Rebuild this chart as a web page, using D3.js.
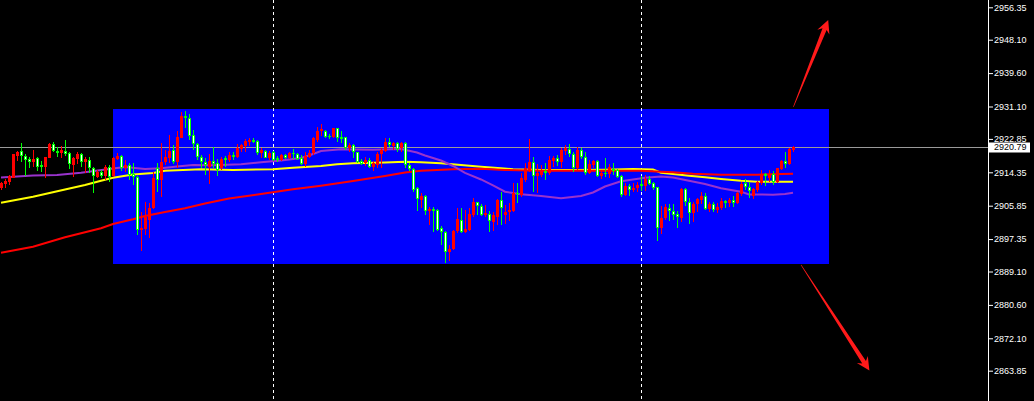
<!DOCTYPE html>
<html><head><meta charset="utf-8">
<script src="https://cdn.jsdelivr.net/npm/d3@7"></script>
<style>html,body{margin:0;padding:0;background:#000;overflow:hidden}</style>
</head><body><svg id="c" width="1034" height="401"></svg>
<script>
// ---- candle data (index 0..198) ----
const openP = [
2910.44,2911.38,2911.97,2912.98,2918.58,2919.78,2918.43,2917.82,2917.06,2917.92,
2916.22,2915.78,2918.07,2921.49,2919.85,2919.34,2919.85,2919.19,2916.22,2917.74,
2918.94,2917.06,2917.41,2915.38,2913.16,2914.35,2913.34,2915.63,2913.41,2917.74,
2918.51,2915.53,2916.14,2913.85,2913.16,2899.67,2899.93,2902.22,2905.19,2915.38,
2912.40,2916.90,2918.07,2920.03,2917.06,2923.16,2928.68,2928.10,2923.85,2921.56,
2918.32,2916.90,2915.78,2917.24,2916.65,2915.38,2917.92,2917.41,2918.76,2918.32,
2920.21,2921.13,2921.99,2922.58,2922.33,2919.34,2919.78,2917.92,2919.52,2917.92,
2917.49,2918.76,2917.92,2919.34,2918.94,2917.92,2916.39,2918.32,2919.19,2922.58,
2924.79,2924.87,2923.67,2923.26,2925.55,2923.34,2923.26,2920.62,2921.31,2919.44,
2917.24,2916.80,2917.49,2915.78,2916.22,2918.94,2919.85,2921.99,2921.13,2921.81,
2920.47,2921.81,2916.22,2915.20,2910.28,2907.31,2908.33,2904.51,2904.94,2904.69,
2900.10,2899.09,2894.15,2894.84,2899.42,2902.22,2899.24,2899.67,2903.49,2906.72,
2905.86,2903.49,2903.74,2901.79,2903.05,2907.31,2903.49,2904.18,2904.51,2909.16,
2908.58,2912.40,2914.69,2916.90,2913.41,2913.67,2914.76,2914.10,2917.24,2918.07,
2917.06,2919.78,2920.29,2918.94,2915.38,2919.95,2918.32,2914.10,2916.22,2917.24,
2913.49,2914.25,2913.85,2915.20,2914.86,2913.41,2908.58,2910.87,2909.85,2910.28,
2911.38,2910.95,2912.65,2911.55,2910.54,2900.10,2902.65,2905.19,2904.58,2903.83,
2902.81,2910.10,2906.88,2903.92,2906.21,2907.31,2908.40,2905.02,2906.21,2904.76,
2905.35,2907.06,2906.62,2907.31,2906.62,2908.76,2911.55,2910.69,2908.40,2909.85,
2911.55,2913.85,2912.98,2913.85,2911.97,2915.20,2917.24,2916.47,2920.03];
const highP = [
2911.97,2912.65,2913.67,2919.09,2919.78,2921.74,2918.94,2918.17,2920.03,2918.32,
2917.24,2918.32,2921.74,2922.15,2920.87,2921.12,2922.50,2919.60,2918.32,2919.60,
2919.27,2918.32,2918.32,2915.78,2914.94,2914.86,2916.14,2916.22,2918.32,2919.34,
2918.76,2917.49,2916.65,2916.65,2913.41,2904.33,2906.72,2906.47,2914.51,2916.65,
2921.74,2920.03,2923.85,2921.31,2924.87,2929.78,2929.96,2929.19,2925.12,2921.89,
2918.76,2917.92,2918.94,2920.80,2917.66,2918.25,2918.58,2919.60,2919.60,2921.49,
2921.56,2922.83,2923.01,2923.16,2922.66,2920.47,2919.95,2919.78,2919.78,2918.43,
2919.09,2919.09,2919.60,2920.29,2919.19,2918.76,2919.60,2920.03,2923.34,2925.97,
2926.52,2925.12,2924.03,2925.71,2925.71,2924.87,2923.42,2921.74,2921.64,2919.60,
2917.74,2918.32,2917.92,2917.24,2919.60,2920.47,2923.01,2923.16,2922.15,2922.15,
2922.15,2921.99,2916.65,2915.38,2910.69,2909.01,2908.58,2905.60,2905.60,2904.94,
2900.78,2899.42,2895.86,2899.67,2905.19,2905.19,2904.76,2905.19,2907.74,2906.88,
2906.21,2906.04,2904.51,2904.33,2907.49,2909.38,2906.04,2906.47,2911.55,2911.55,
2914.10,2916.65,2922.83,2918.17,2916.39,2916.22,2916.65,2918.58,2918.51,2918.76,
2920.62,2921.31,2921.56,2919.60,2920.87,2920.62,2919.60,2917.49,2917.49,2917.49,
2914.94,2917.92,2916.39,2916.65,2915.20,2913.67,2911.55,2911.30,2911.55,2911.97,
2913.49,2913.67,2913.49,2911.81,2910.69,2905.78,2906.21,2906.29,2906.29,2904.51,
2910.28,2910.28,2907.74,2906.88,2907.74,2909.27,2909.01,2906.72,2906.72,2906.47,
2907.74,2907.31,2907.74,2908.40,2909.42,2911.81,2912.65,2911.81,2910.44,2912.15,
2914.94,2914.10,2914.94,2914.69,2915.53,2917.49,2919.44,2920.47,2921.12];
const lowP = [
2909.85,2910.44,2911.13,2912.83,2917.24,2916.90,2913.49,2915.38,2915.63,2914.69,
2914.51,2912.98,2917.92,2919.60,2918.17,2917.92,2918.58,2915.12,2913.23,2916.39,
2915.63,2914.10,2914.10,2909.01,2912.98,2912.83,2912.47,2911.97,2913.16,2917.56,
2914.61,2914.51,2912.40,2911.13,2898.40,2894.40,2898.40,2897.71,2905.02,2909.42,
2908.15,2916.22,2916.65,2916.39,2915.38,2923.01,2925.71,2922.58,2920.03,2917.49,
2915.38,2913.67,2911.38,2915.38,2913.49,2914.94,2915.78,2916.90,2917.49,2917.92,
2919.60,2919.60,2921.13,2921.74,2918.76,2918.07,2917.92,2917.49,2917.31,2916.90,
2917.24,2917.74,2917.66,2917.66,2917.49,2916.22,2915.78,2917.92,2918.76,2922.15,
2923.60,2923.01,2922.83,2923.01,2922.15,2921.74,2920.03,2919.60,2917.92,2916.65,
2916.22,2916.04,2915.38,2914.76,2915.38,2915.53,2919.60,2920.87,2920.03,2919.60,
2919.44,2915.38,2914.69,2909.27,2904.51,2905.19,2903.49,2900.95,2899.24,2899.42,
2895.86,2891.20,2891.79,2894.58,2898.83,2898.83,2898.83,2899.42,2903.05,2903.49,
2903.31,2903.05,2899.24,2899.42,2900.95,2900.95,2901.13,2901.97,2904.18,2906.47,
2908.15,2911.97,2914.51,2909.27,2909.16,2913.23,2912.40,2913.67,2915.78,2916.04,
2915.53,2918.76,2918.32,2914.51,2914.94,2917.74,2913.67,2913.85,2915.38,2913.23,
2912.65,2913.23,2912.98,2913.67,2912.98,2908.15,2908.40,2908.40,2909.27,2909.27,
2909.60,2909.60,2911.13,2909.85,2896.87,2898.58,2902.22,2901.97,2902.22,2900.26,
2901.63,2905.78,2901.13,2901.79,2904.18,2906.21,2904.76,2904.33,2904.33,2903.92,
2904.76,2905.19,2905.60,2905.60,2906.21,2908.40,2909.85,2907.89,2907.56,2909.27,
2911.13,2910.95,2911.97,2911.13,2911.55,2914.94,2915.38,2916.22,2919.44];
const closeP = [
2911.71,2912.15,2913.34,2918.94,2919.52,2918.58,2917.56,2917.06,2917.74,2915.71,
2915.71,2918.17,2921.56,2919.85,2919.34,2919.95,2919.09,2916.55,2917.92,2919.01,
2917.06,2917.66,2915.38,2913.34,2914.35,2913.34,2915.63,2913.23,2917.92,2918.58,
2915.53,2916.29,2913.67,2913.16,2899.67,2900.26,2902.91,2905.19,2912.83,2912.40,
2916.90,2918.32,2919.85,2917.06,2923.34,2928.68,2928.10,2923.67,2921.49,2918.32,
2916.90,2916.22,2917.24,2916.55,2914.94,2917.74,2917.41,2918.76,2918.25,2920.47,
2921.31,2922.33,2922.66,2921.99,2919.19,2919.95,2918.07,2919.34,2917.49,2917.49,
2918.76,2918.07,2919.27,2918.94,2917.74,2916.39,2918.58,2919.19,2923.01,2924.87,
2925.25,2923.42,2923.26,2925.55,2923.16,2922.83,2920.62,2921.31,2919.44,2917.06,
2916.47,2917.49,2915.78,2916.65,2918.94,2919.95,2922.15,2921.31,2921.81,2920.29,
2921.81,2916.22,2915.20,2909.93,2907.56,2908.40,2904.51,2905.02,2904.51,2899.67,
2899.09,2894.15,2894.84,2899.49,2902.47,2899.24,2899.93,2903.83,2906.72,2905.86,
2903.49,2903.92,2902.04,2903.49,2907.31,2905.35,2904.33,2904.76,2909.16,2908.76,
2912.98,2915.38,2916.90,2913.49,2914.10,2914.94,2914.25,2917.49,2918.07,2917.06,
2920.03,2920.47,2918.94,2915.38,2920.03,2918.32,2914.10,2916.39,2917.24,2913.49,
2914.25,2913.85,2915.78,2914.69,2913.23,2908.58,2910.87,2909.85,2910.44,2911.13,
2910.95,2912.65,2911.38,2910.44,2900.10,2902.65,2905.60,2904.51,2903.49,2902.98,
2910.10,2906.88,2903.92,2906.21,2907.49,2908.40,2905.02,2906.21,2904.76,2905.53,
2907.06,2906.62,2907.31,2906.62,2909.01,2911.30,2910.69,2909.60,2910.03,2911.81,
2913.67,2913.41,2913.67,2911.97,2915.38,2917.24,2916.55,2920.29,2920.79];

// ---- moving averages (sampled at candle indices) ----
const maPurpleIdx = [0,8,14,20,28,31,36,40,44,48,53,60,65,70,75,77,80,85,93,100,104,106,110,113,116,120,123,126,130,135,140,145,148,151,155,158,161,165,168,172,176,180,185,187,193,196,198];
const maPurpleVal = [2913.03,2913.54,2913.67,2914.25,2915.33,2915.71,2915.20,2915.38,2915.84,2916.22,2916.14,2916.39,2916.90,2917.36,2918.00,2918.63,2919.78,2920.21,2920.08,2920.29,2919.40,2918.63,2917.36,2915.96,2914.18,2912.53,2911.00,2909.42,2908.76,2908.33,2907.74,2908.33,2909.22,2910.74,2912.07,2912.53,2912.98,2913.29,2913.03,2912.22,2911.38,2910.28,2909.42,2908.71,2908.66,2908.84,2909.16];
const maYellowIdx = [0,8,16,21,25,28,33,38,41,50,58,68,73,80,84,88,96,101,105,110,115,120,125,128,135,143,151,158,163,165,168,172,176,180,185,189,198];
const maYellowVal = [2906.62,2908.12,2909.98,2911.13,2912.22,2912.98,2913.80,2914.18,2914.76,2915.12,2914.94,2915.12,2915.53,2915.96,2916.42,2916.65,2916.85,2917.06,2916.90,2916.65,2916.22,2915.78,2915.38,2915.12,2914.94,2914.94,2915.02,2915.20,2915.07,2914.25,2913.92,2913.49,2913.08,2912.65,2912.22,2911.97,2911.97];
const maRedIdx = [0,8,16,25,28,33,36,41,46,51,57,65,73,80,88,96,101,105,113,120,126,135,151,160,165,168,173,180,189,195,198];
const maRedVal = [2893.89,2895.42,2897.81,2900.10,2901.19,2902.39,2903.23,2904.25,2905.19,2906.42,2907.69,2908.84,2910.03,2910.95,2912.15,2913.41,2914.31,2914.76,2915.12,2915.25,2914.94,2914.76,2914.76,2914.76,2914.51,2914.35,2914.00,2913.74,2913.74,2913.92,2914.00];

// ---- axis ticks & objects ----
const priceTicks = [2956.35,2948.10,2939.60,2931.10,2922.85,2914.35,2905.85,2897.35,2889.10,2880.60,2872.10,2863.85,2855.35];
const lastPrice = 2920.79;
const separatorIdx = [68, 160];
const boxIdx = [28, 207];
const boxPrice = [2930.47, 2891.02];
const arrowUp = {i0:198.1, p0:2931.0, i1:206.8, p1:2953.1};
const arrowDown = {i0:200.0, p0:2890.8, i1:217.1, p1:2863.9};

const W = 1034, H = 401, AXIS_X = 988;
const svg = d3.select('#c');
svg.append('rect').attr('width', W).attr('height', H).attr('fill', '#000');

const x = d3.scaleLinear().domain([0, 198]).range([1, 793]);
const y = d3.scaleLinear().domain([2863.85, 2956.35]).range([370.7, 7.3]);

// blue rectangle
svg.append('rect')
  .attr('x', x(boxIdx[0])).attr('y', Math.round(y(boxPrice[0])))
  .attr('width', x(boxIdx[1]) - x(boxIdx[0]))
  .attr('height', Math.round(y(boxPrice[1])) - Math.round(y(boxPrice[0])))
  .attr('fill', '#0000ff');

// current price line
const yl = Math.round(y(lastPrice)) + 0.5;
svg.append('line').attr('x1', 0).attr('x2', AXIS_X).attr('y1', yl).attr('y2', yl)
  .attr('stroke', '#9a9a9a').attr('stroke-width', 1);

// period separators
svg.selectAll('line.sep').data(separatorIdx).enter().append('line')
  .attr('class', 'sep')
  .attr('x1', d => Math.round(x(d)) + 0.5).attr('x2', d => Math.round(x(d)) + 0.5)
  .attr('y1', 0).attr('y2', H)
  .attr('stroke', '#fff').attr('stroke-width', 1).attr('stroke-dasharray', '3,3');

// moving averages
function drawMA(idx, val, color) {
  const pts = idx.map((d, k) => [d, val[k]]);
  svg.append('path').datum(pts)
    .attr('d', d3.line().x(d => x(d[0])).y(d => y(d[1])))
    .attr('fill', 'none').attr('stroke', color).attr('stroke-width', 2);
}
drawMA(maYellowIdx, maYellowVal, '#ffff00');
drawMA(maRedIdx, maRedVal, '#ff0000');
drawMA(maPurpleIdx, maPurpleVal, '#9933cc');

// candles
const candles = openP.map((o, i) => ({i, o, h: highP[i], l: lowP[i], c: closeP[i]}));
const cg = svg.append('g');
candles.forEach(d => {
  const cx = Math.round(x(d.i));
  const up = d.c >= d.o;
  const col = up ? '#ff0000' : '#00ff00';
  cg.append('line').attr('x1', cx + 0.5).attr('x2', cx + 0.5)
    .attr('y1', Math.round(y(d.h))).attr('y2', Math.round(y(d.l)))
    .attr('stroke', col).attr('stroke-width', 1);
  const top = Math.round(y(Math.max(d.o, d.c)));
  const bot = Math.round(y(Math.min(d.o, d.c)));
  const hgt = Math.max(1, bot - top);
  if (up) {
    cg.append('rect').attr('x', cx - 1).attr('y', top).attr('width', 3).attr('height', hgt)
      .attr('fill', '#ff0000');
  } else if (hgt >= 2) {
    cg.append('rect').attr('x', cx - 0.5).attr('y', top + 0.5).attr('width', 2).attr('height', hgt - 1)
      .attr('fill', '#ffffff').attr('stroke', '#00ff00').attr('stroke-width', 1);
  } else {
    cg.append('rect').attr('x', cx - 1).attr('y', top).attr('width', 3).attr('height', hgt)
      .attr('fill', '#00ff00');
  }
});

// arrows
function arrow(a) {
  const x0 = x(a.i0), y0 = y(a.p0), x1 = x(a.i1), y1 = y(a.p1);
  const dx = x1 - x0, dy = y1 - y0, L = Math.hypot(dx, dy);
  const ux = dx / L, uy = dy / L, nx = -uy, ny = ux;
  const hl = 13, hw = 6.5, bw = 2.2, tw = 0.3;
  const bx = x1 - ux * hl * 0.75, by = y1 - uy * hl * 0.75;
  const hx = x1 - ux * hl, hy = y1 - uy * hl;
  const pts = [
    [x0 + nx * tw, y0 + ny * tw],
    [bx + nx * bw, by + ny * bw],
    [hx + nx * hw, hy + ny * hw],
    [x1, y1],
    [hx - nx * hw, hy - ny * hw],
    [bx - nx * bw, by - ny * bw],
    [x0 - nx * tw, y0 - ny * tw]
  ];
  svg.append('path').attr('d', 'M' + pts.map(p => p.join(',')).join('L') + 'Z')
    .attr('fill', '#ff1a1a');
}
arrow(arrowUp);
arrow(arrowDown);

// price axis
svg.append('rect').attr('x', AXIS_X).attr('y', 0).attr('width', 1).attr('height', H).attr('fill', '#fff');
const ax = svg.append('g').attr('transform', `translate(${AXIS_X + 1},0)`)
  .call(d3.axisRight(y).tickValues(priceTicks).tickSize(4).tickPadding(1).tickFormat(d3.format('.2f')));
ax.select('.domain').remove();
ax.selectAll('line').attr('stroke', '#fff');
ax.selectAll('text').attr('fill', '#fff')
  .style('font-family', '"Liberation Sans", Arial, sans-serif').style('font-size', '9px');

// last price label
const ly = y(lastPrice);
svg.append('rect').attr('x', AXIS_X + 1).attr('y', Math.round(ly) - 4.5).attr('width', 41).attr('height', 10)
  .attr('fill', '#fff');
svg.append('text').attr('x', AXIS_X + 6).attr('y', ly).attr('dy', '0.34em')
  .attr('fill', '#000').style('font-family', '"Liberation Sans", Arial, sans-serif').style('font-size', '9px')
  .text(d3.format('.2f')(lastPrice));
</script></body></html>
